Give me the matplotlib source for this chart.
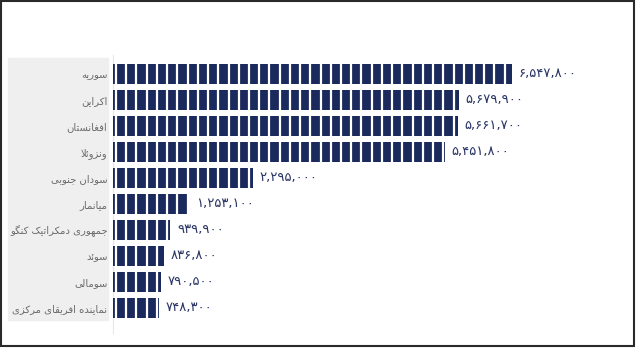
import numpy as np
import matplotlib.pyplot as plt
from matplotlib.patches import Rectangle
from matplotlib.lines import Line2D

# data
countries = ["سوریه", "اکراین", "افغانستان", "ونزوئلا", "سودان جنوبی",
             "میانمار", "جمهوری دمکراتیک کنگو", "سوئد", "سومالی",
             "نماینده افریقای مرکزی"]
values = [6547800, 5679900, 5661700, 5451800, 2295000,
          1253100, 939900, 836800, 790500, 748300]

# arabic letter forms: isolated, final, initial, medial
FORMS = {
    '\u0627': ('\uFE8D', '\uFE8E', None, None),
    '\u0628': ('\uFE8F', '\uFE90', '\uFE91', '\uFE92'),
    '\u062A': ('\uFE95', '\uFE96', '\uFE97', '\uFE98'),
    '\u062C': ('\uFE9D', '\uFE9E', '\uFE9F', '\uFEA0'),
    '\u062F': ('\uFEA9', '\uFEAA', None, None),
    '\u0631': ('\uFEAD', '\uFEAE', None, None),
    '\u0632': ('\uFEAF', '\uFEB0', None, None),
    '\u0633': ('\uFEB1', '\uFEB2', '\uFEB3', '\uFEB4'),
    '\u063A': ('\uFECD', '\uFECE', '\uFECF', '\uFED0'),
    '\u0641': ('\uFED1', '\uFED2', '\uFED3', '\uFED4'),
    '\u0642': ('\uFED5', '\uFED6', '\uFED7', '\uFED8'),
    '\u0644': ('\uFEDD', '\uFEDE', '\uFEDF', '\uFEE0'),
    '\u0645': ('\uFEE1', '\uFEE2', '\uFEE3', '\uFEE4'),
    '\u0646': ('\uFEE5', '\uFEE6', '\uFEE7', '\uFEE8'),
    '\u0647': ('\uFEE9', '\uFEEA', '\uFEEB', '\uFEEC'),
    '\u0648': ('\uFEED', '\uFEEE', None, None),
    '\u0626': ('\uFE89', '\uFE8A', '\uFE8B', '\uFE8C'),
    '\u06A9': ('\uFB8E', '\uFB8F', '\uFB90', '\uFB91'),
    '\u06AF': ('\uFB92', '\uFB93', '\uFB94', '\uFB95'),
    '\u06CC': ('\uFBFC', '\uFBFD', '\uFBFE', '\uFBFF'),
}


def shape(text):
    # join letters and flip to visual order, matplotlib has no bidi
    text = text.replace('\u064A', '\u06CC').replace('\u0643', '\u06A9')
    out = []
    i = 0
    while i < len(text):
        ch = text[i]
        prev = text[i - 1] if i > 0 else ''
        nxt = text[i + 1] if i + 1 < len(text) else ''
        joins_prev = prev in FORMS and FORMS[prev][2] is not None
        if ch == '\u0644' and nxt == '\u0627':
            out.append('\uFEFC' if joins_prev else '\uFEFB')
            i += 2
            continue
        if ch not in FORMS:
            out.append(ch)
            i += 1
            continue
        f = FORMS[ch]
        joins_next = f[2] is not None and nxt in FORMS
        if joins_prev and joins_next:
            out.append(f[3])
        elif joins_prev:
            out.append(f[1])
        elif joins_next:
            out.append(f[2])
        else:
            out.append(f[0])
        i += 1
    return ''.join(reversed(out))


def fa_num(v):
    s = f"{v:,}"
    return s.translate(str.maketrans('0123456789', '۰۱۲۳۴۵۶۷۸۹'))


navy = "#1b2a5c"
W, H = 640, 355
fig = plt.figure(figsize=(6.4, 3.55), dpi=100)

# gray label panel and outer frame
fig.patches.append(Rectangle((8 / W, 1 - 320 / H), 100 / W, 262 / H,
                             transform=fig.transFigure, color="#efefef", zorder=-1))
fig.patches.append(Rectangle((1 / W, 1 - 346 / H), 633 / W, 345 / H, transform=fig.transFigure,
                             fill=False, edgecolor="#2a2a2a", lw=1.5, zorder=5))
fig.lines.append(Line2D([113 / W, 113 / W], [1 - 55 / H, 1 - 333 / H],
                        transform=fig.transFigure, color="#e8e8e8", lw=0.8, zorder=-1))

ax = fig.add_axes([113 / W, 1 - 321 / H, 487 / W, 260 / H])
ax.set_facecolor("none")
y = np.arange(len(values))
ax.barh(y, values, height=0.78, color=navy, zorder=2)

# white stripes cut the bars into blocks
step = 168000
ax.vlines(np.arange(50000, 8e6, step), -0.5, len(values) - 0.5,
          colors="white", lw=1.6, zorder=2.5)

for yi, v in zip(y, values):
    ax.text(v + 110000, yi, fa_num(v), va="center", ha="left",
            color="#2a3565", fontsize=9.5, zorder=4)

ax.set_xlim(0, 8.0e6)
ax.set_ylim(len(values) - 0.5, -0.5)
ax.set_yticks(y)
ax.set_yticklabels([shape(c) for c in countries], color="#6a6a6a", fontsize=7.2)
ax.tick_params(axis="y", length=0, pad=4)
ax.set_xticks([])
for s in ax.spines.values():
    s.set_visible(False)

fig.savefig("out.png", dpi=100)
